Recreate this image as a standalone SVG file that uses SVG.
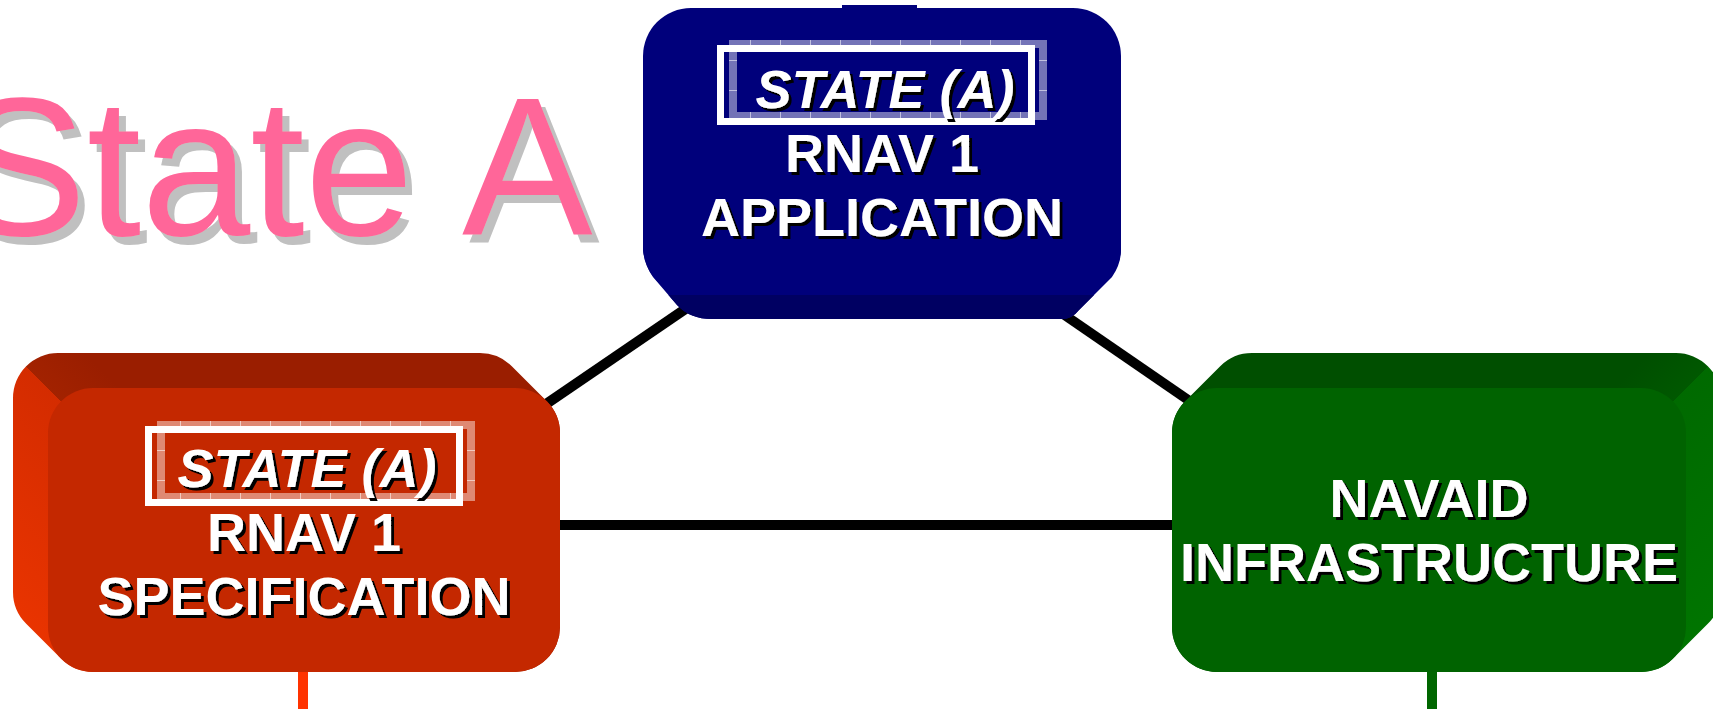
<svg xmlns="http://www.w3.org/2000/svg" width="1713" height="709" viewBox="0 0 1713 709">
  <defs>
    <style>
      .title { font-family: "Liberation Sans", Arial, sans-serif; font-size: 196px; fill: #FF6699; }
      .lbl { font-family: "Liberation Sans", Arial, sans-serif; font-weight: bold; font-size: 54px; fill: #FFFFFF; text-anchor: middle; }
      .state { font-style: italic; }
      .frame { fill: none; stroke: #FFFFFF; stroke-width: 7; }
      .overlay { fill: none; stroke: url(#gridTint); stroke-width: 8; }
      .link { stroke: #000000; stroke-width: 10; fill: none; }
    </style>
    <filter id="titleShadow" x="-5%" y="-10%" width="115%" height="130%">
      <feDropShadow dx="7" dy="8" stdDeviation="0" flood-color="#C0C0C0" flood-opacity="1"/>
    </filter>
    <filter id="lblShadow" x="-5%" y="-10%" width="115%" height="130%">
      <feDropShadow dx="3" dy="3" stdDeviation="0" flood-color="#000000" flood-opacity="1"/>
    </filter>
    <pattern id="gridTint" patternUnits="userSpaceOnUse" width="30" height="30">
      <rect width="30" height="30" fill="#FFFFFF" fill-opacity="0.45"/>
      <path d="M0.5,0 V30 M0,0.5 H30" stroke="#FFFFFF" stroke-opacity="0.55" stroke-width="1"/>
    </pattern>
    <!-- side faces of the red block: left face bright, top face dark -->
    <linearGradient id="redSides" gradientUnits="userSpaceOnUse" x1="0" y1="640" x2="300" y2="340">
      <stop offset="0" stop-color="#EC3500"/>
      <stop offset="0.5" stop-color="#D42C00"/>
      <stop offset="0.5" stop-color="#A22200"/>
      <stop offset="0.62" stop-color="#9A1E00"/>
      <stop offset="1" stop-color="#9A1E00"/>
    </linearGradient>
    <!-- side faces of the green block: top face dark, right face lighter -->
    <linearGradient id="greenSides" gradientUnits="userSpaceOnUse" x1="887" y1="887" x2="1187" y2="1187">
      <stop offset="0" stop-color="#004F00"/>
      <stop offset="0.38" stop-color="#004F00"/>
      <stop offset="0.5" stop-color="#005800"/>
      <stop offset="0.5" stop-color="#006A00"/>
      <stop offset="1" stop-color="#007600"/>
    </linearGradient>
    <clipPath id="blueBase">
      <rect x="600" y="295" width="560" height="30"/>
    </clipPath>
    <path id="blueDepth" d="M643,200 L643,250 Q645,266 653,277 L677,305 Q690,319 712,319 L1062,319 Q1072,319 1079,310 L1112,277 Q1121,264 1121,250 L1121,200 Z"/>
  </defs>

  <rect width="1713" height="709" fill="#FFFFFF"/>

  <g id="title">
    <text class="title" x="-44" y="235" filter="url(#titleShadow)">State <tspan x="462">A</tspan></text>
  </g>

  <g id="connectors">
    <line class="link" x1="530" y1="415" x2="700" y2="299"/>
    <line class="link" x1="1050" y1="305" x2="1210" y2="415"/>
    <line class="link" x1="550" y1="525" x2="1185" y2="525" stroke-width="11"/>
    <line x1="303" y1="660" x2="303" y2="709" stroke="#FF3300" stroke-width="10"/>
    <line x1="1432" y1="660" x2="1432" y2="709" stroke="#006600" stroke-width="10"/>
  </g>

  <g id="node-application">
    <rect x="842" y="5" width="75" height="5" fill="#00007B"/>
    <use href="#blueDepth" fill="#00007B"/>
    <use href="#blueDepth" fill="#000062" clip-path="url(#blueBase)"/>
    <rect x="643" y="8" width="478" height="287" rx="48" ry="48" fill="#00007B"/>
    <rect class="overlay" x="733" y="44" width="310" height="72"/>
    <rect class="frame" x="720.5" y="48.5" width="311" height="73"/>
    <g filter="url(#lblShadow)">
      <text class="lbl state" x="885" y="108">STATE (A)</text>
      <text class="lbl" x="882" y="172">RNAV 1</text>
      <text class="lbl" x="882" y="236">APPLICATION</text>
    </g>
  </g>

  <g id="node-specification">
    <path fill="url(#redSides)" d="M13,398 A45,45 0 0 1 58,353 L480,353 A45,45 0 0 1 511.8,366.2 L546.8,401.2 A45,45 0 0 1 560,433 L560,627 A45,45 0 0 1 515,672 L93,672 A45,45 0 0 1 61.2,658.8 L26.2,623.8 A45,45 0 0 1 13,592 Z"/>
    <rect x="48" y="388" width="512" height="284" rx="45" ry="45" fill="#C42800"/>
    <rect class="overlay" x="161" y="425" width="310" height="72"/>
    <rect class="frame" x="148.5" y="429.5" width="311" height="73"/>
    <g filter="url(#lblShadow)">
      <text class="lbl state" x="307" y="487">STATE (A)</text>
      <text class="lbl" x="304" y="551">RNAV 1</text>
      <text class="lbl" x="304" y="615">SPECIFICATION</text>
    </g>
  </g>

  <g id="node-navaid">
    <path fill="url(#greenSides)" d="M1220.2,366.2 A45,45 0 0 1 1252,353 L1676,353 A45,45 0 0 1 1721,398 L1721,592 A45,45 0 0 1 1707.8,623.8 L1672.8,658.8 A45,45 0 0 1 1641,672 L1217,672 A45,45 0 0 1 1172,627 L1172,433 A45,45 0 0 1 1185.2,401.2 Z"/>
    <rect x="1172" y="388" width="514" height="284" rx="45" ry="45" fill="#006300"/>
    <g filter="url(#lblShadow)">
      <text class="lbl" x="1429" y="517">NAVAID</text>
      <text class="lbl" x="1429" y="581">INFRASTRUCTURE</text>
    </g>
  </g>
</svg>
